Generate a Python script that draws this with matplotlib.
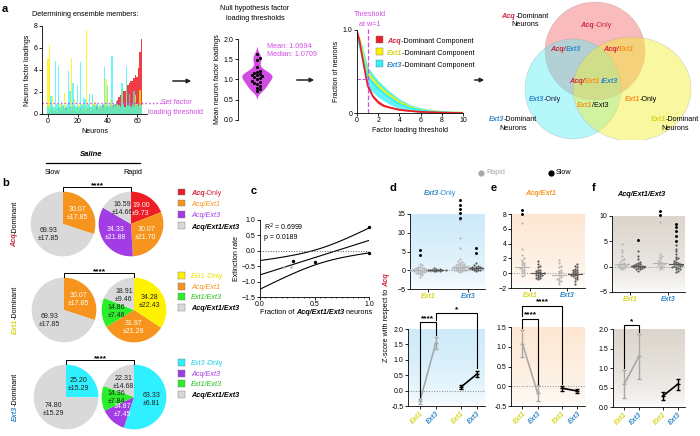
import numpy as np
import matplotlib
matplotlib.use('Agg')
import matplotlib.pyplot as plt
from matplotlib.patches import Rectangle, Ellipse, FancyArrowPatch
from matplotlib.lines import Line2D
from matplotlib.colors import LinearSegmentedColormap

plt.rcParams['font.family'] = ['Liberation Sans', 'DejaVu Sans']
plt.rcParams.update({'font.size': 5, 'axes.linewidth': 0.6,
                     'xtick.major.width': 0.6, 'ytick.major.width': 0.6,
                     'xtick.major.size': 2, 'ytick.major.size': 2,
                     'xtick.minor.size': 1, 'xtick.minor.width': 0.5,
                     'xtick.major.pad': 1.2, 'ytick.major.pad': 1.2,
                     'xtick.labelsize': 5, 'ytick.labelsize': 5,
                     'axes.spines.top': False, 'axes.spines.right': False})

W, H = 700, 436

RED = '#ee1c25'
RED_T = '#d2233c'
ORANGE = '#f7941d'
PURPLE = '#a23de6'
GREY_P = '#d9d9d9'
YELLOW = '#fff200'
GREEN = '#2bee2b'
CYAN = '#2ef0ff'
MAGENTA = '#d24ce4'
BLUE_T = '#2f86c8'
YEL_T = '#d8d41c'

# ---- panel a: factor loadings per neuron ----
yellow_load = [5.0, 6.3, 0.6, 1.6, 0.4, 0.8, 0.5, 0.3,
               0.9, 0.6, 0.7, 1.9, 0.4, 0.8, 0.6, 0.5,
               5.1, 0.7, 1.4, 0.5, 0.6, 0.8, 0.4, 0.9,
               0.6, 0.7, 7.6, 0.5, 0.8, 0.6, 1.5, 0.9,
               1.2, 0.4, 0.7, 0.6, 0.8, 0.5, 0.9, 3.2,
               2.0, 0.6, 1.4, 0.7, 0.5, 0.8, 0.6, 0.9,
               0.7, 0.5, 2.3, 0.8, 0.6, 3.0, 0.7, 0.9,
               0.5, 0.8, 0.6, 1.7, 0.9, 0.7, 2.2, 0.8]
cyan_load = [0.7, 0.5, 1.6, 0.8, 0.6, 4.8, 0.9, 4.4,
             0.6, 1.1, 0.8, 0.5, 0.7, 0.9, 3.9, 2.1,
             0.6, 2.8, 0.8, 0.7, 2.5, 0.6, 4.7, 0.8,
             1.5, 1.4, 0.7, 0.9, 1.8, 0.6, 1.8, 0.8,
             0.7, 0.9, 0.5, 0.8, 0.6, 0.9, 4.3, 0.7,
             2.6, 0.8, 0.6, 5.3, 0.7, 0.9, 1.2, 0.6,
             0.8, 0.7, 2.8, 0.9, 0.6, 4.4, 0.8, 1.8,
             0.7, 0.9, 2.1, 0.6, 0.8, 0.7, 0.9, 0.6]
red_load = [0.3, 0.2, 0.4, 0.5, 0.3, 0.4, 0.2, 0.5,
            0.3, 0.4, 0.6, 0.3, 0.5, 0.2, 0.4, 0.6,
            0.3, 0.5, 0.4, 0.2, 0.6, 0.3, 0.5, 0.4,
            0.6, 0.3, 0.4, 0.5, 0.7, 0.3, 0.6, 0.4,
            0.5, 0.7, 0.4, 0.6, 0.5, 0.8, 0.6, 0.7,
            0.8, 0.6, 0.9, 0.7, 0.8, 0.9, 1.2, 1.3,
            1.5, 1.7, 2.0, 2.1, 2.1, 2.4, 2.6, 2.8,
            3.0, 3.0, 3.3, 3.5, 3.4, 4.2, 5.6, 6.8]

mean_loadings = [1.62, 1.52, 1.47, 1.30, 1.22, 1.18, 1.13, 1.10, 1.10, 1.09, 1.07,
                 1.03, 1.00, 0.97, 0.95, 0.92, 0.88, 0.85, 0.80, 0.76, 0.72, 1.15]

thresholds = [0, 0.25, 0.5, 0.75, 1, 1.5, 2, 2.5, 3, 4, 5, 6, 7, 8, 9, 10]
acq_frac = [0.98, 0.86, 0.68, 0.5, 0.33, 0.2, 0.13, 0.09, 0.07, 0.04, 0.025, 0.015, 0.01, 0.005, 0.002, 0.0]
ext1_frac = [0.95, 0.86, 0.74, 0.6, 0.48, 0.4, 0.33, 0.27, 0.22, 0.13, 0.07, 0.04, 0.025, 0.015, 0.008, 0.004]
ext3_frac = [0.92, 0.82, 0.7, 0.57, 0.44, 0.36, 0.29, 0.24, 0.19, 0.11, 0.06, 0.035, 0.02, 0.012, 0.006, 0.003]
acq_sem = [0.02, 0.03, 0.04, 0.04, 0.03, 0.02, 0.02, 0.015, 0.01, 0.01, 0.005, 0.005, 0.003, 0.002, 0.001, 0]
ext1_sem = [0.03, 0.05, 0.06, 0.07, 0.07, 0.06, 0.05, 0.045, 0.04, 0.03, 0.02, 0.015, 0.01, 0.008, 0.005, 0.003]
ext3_sem = [0.05, 0.08, 0.11, 0.12, 0.12, 0.11, 0.1, 0.09, 0.08, 0.06, 0.04, 0.03, 0.02, 0.012, 0.007, 0.004]

# ---- panel b: ensemble composition (%) ----
acq_left, acq_left_sd = [30.07, 69.93], [17.85, 17.85]
acq_right, acq_right_sd = [19.00, 30.07, 34.33, 16.59], [9.73, 21.70, 21.88, 14.66]
ext1_left, ext1_left_sd = [30.07, 69.93], [17.85, 17.85]
ext1_right, ext1_right_sd = [34.28, 31.97, 14.86, 18.91], [22.43, 21.26, 7.46, 9.46]
ext3_left, ext3_left_sd = [25.20, 74.80], [15.29, 15.29]
ext3_right, ext3_right_sd = [63.33, 14.87, 14.36, 22.31], [6.81, 7.45, 7.84, 14.68]

# ---- panel c ----
c_grey_x, c_grey_y = [0.22, 0.28], [-0.52, -0.52]
c_black_x, c_black_y = [0.30, 0.50, 1.00, 1.00], [-0.32, -0.35, 0.77, -0.06]

# ---- panels d-f top: per-neuron z-scores ----
d_ext1_rapid = [0.3, -0.2, 0.5, -0.5, 0.1, 0.0, -0.3, 0.8, -0.8, 0.2, -0.1, 0.4, -0.6, 1.0, -1.0,
                0.6, -0.4, 0.15, -0.15, 1.3, -1.3, 0.05, -0.05, 0.7, -0.7, 1.6, -1.8, 0.25, -0.25, 0.35]
d_ext1_slow = [0.1, -0.1, 0.3, -0.2, 0.0, 0.2, -0.3, 0.5, 0.05, -0.05, 0.4, 0.15]
d_ext3_rapid = [0.5, 1.0, 0.2, 1.5, -0.3, 0.8, 2.0, 0.0, 1.2, 2.5, 0.4, -0.5, 1.8, 0.9, 0.1, 0.6, 3.0,
                1.4, -0.2, 0.7, 2.2, 0.3, 1.1, 0.0, 0.5, 1.7, 0.2, 0.9, 6.0, 8.6, 13.4, 0.6, 0.4, 1.3]
d_ext3_slow = [0.5, 0.8, 0.2, 1.2, 0.0, 0.6, 1.5, 0.3, 0.9, -0.2, 0.7, 0.4, 1.0, 0.1, 2.0, 0.5]
d_rapid_out = [[5.3, 4.0], [14.0, 15.2, 16.4, 17.5, 18.7]]
d_slow_out = [[], [6.0, 4.6]]

e_ext1_rapid = [0.8, 1.2, 0.3, 2.0, 0.0, 1.5, 0.5, -0.2, 2.5, 0.9, 1.1, 0.6, 0.2, 1.8, 3.3, 0.7, -0.4, 1.4, 6.8]
e_ext1_slow = [-0.2, 0.3, -0.5, 0.0, 0.8, -0.8, 1.2, -0.1, 0.2, -0.4, 0.5, 1.7, -0.3, 0.1, -0.6, 0.4,
               1.0, -0.2, 0.0, -0.7]
e_ext3_rapid = [-0.5, 0.2, -1.0, 0.5, -1.5, 1.0, -0.3, 1.8, -0.8, 0.0, 0.8, -1.2, -0.6, 0.3, -0.2, 1.4, -0.9]
e_ext3_slow = [-0.2, 0.3, -0.6, 0.0, 0.8, -1.0, 1.2, -0.4, 0.5, -0.1, 0.2, -0.8, 1.0, -0.3, 0.1, -1.5,
               0.6, -0.5, 0.4, -0.2]
e_rapid_out = [[8.6, 8.0], []]
e_slow_out = [[], []]

f_ext1_rapid = [0.2, 0.5, -0.3, 1.0, 0.0, 1.6, 0.3, 2.2, -0.5, 0.8, 0.1, 2.8, 0.6, -0.2, 1.3, 4.5, 0.4, 3.3]
f_ext1_slow = [0.0, 0.3, -0.4, 0.6, 0.1, -0.8, 1.0, 0.2, -0.2, 1.5, 0.4, -0.5, 2.2, 0.0, 3.0, 0.5,
               -0.1, 0.8, 0.2, -0.3]
f_ext3_rapid = [0.3, 1.0, -0.3, 2.0, 0.5, 1.5, 0.0, 2.5, 0.8, -0.5, 1.2, 0.2, 2.2, 0.6, 8.9]
f_ext3_slow = [0.2, 0.6, -0.4, 1.0, 0.0, 1.5, 0.3, -0.8, 2.0, 0.8, -0.2, 2.5, 0.4, 3.0, -1.0, 1.2,
               0.1, 3.5, 0.5, -0.5, 4.3, 0.7, 0.0, 1.8]
f_rapid_out = [[], [11.0, 10.2]]
f_slow_out = [[5.2], [8.5, 7.8, 7.0, 6.0, 5.0]]

# ---- panels d-f bottom: mean +/- sem ----
d_rapid_mean, d_rapid_err = [-0.35, 1.55], [0.08, 0.2]
d_slow_mean, d_slow_err = [0.12, 0.54], [0.07, 0.1]
e_rapid_mean, e_rapid_err = [1.08, -0.18], [0.35, 0.2]
e_slow_mean, e_slow_err = [-0.05, -0.12], [0.06, 0.06]
f_rapid_mean, f_rapid_err = [0.58, 1.30], [0.36, 0.57]
f_slow_mean, f_slow_err = [0.28, 0.58], [0.1, 0.15]

fig = plt.figure(figsize=(W / 100, H / 100), dpi=100)
renderer = fig.canvas.get_renderer()


def add_ax(l, t, r, b):
    return fig.add_axes([l / W, 1 - b / H, (r - l) / W, (b - t) / H])


def ftext(x, y, s, **kw):
    kw.setdefault('ha', 'center')
    kw.setdefault('va', 'center')
    return fig.text(x / W, 1 - y / H, s, **kw)


def rich(x, y, parts, size=5, align='left', rot=0):
    # chain text pieces with different colours / styles
    arts = []
    adv = 0.0
    base = y + 0.36 * size * 100 / 72
    for s, c, st, w in parts:
        gap = 0.39 * size if s.endswith(' ') else 0.0
        s2 = s.rstrip(' ')
        if rot == 0:
            t = fig.text((x + adv) / W, 1 - base / H, s2, color=c, style=st, weight=w,
                         fontsize=size, ha='left', va='baseline')
            ext = t.get_window_extent(renderer).width
        else:
            t = fig.text(x / W, 1 - (y - adv) / H, s2, color=c, style=st, weight=w,
                         fontsize=size, ha='center', va='bottom', rotation=90)
            ext = t.get_window_extent(renderer).height
        arts.append((t, adv))
        adv += ext + gap
    if align == 'center':
        for t, a in arts:
            if rot == 0:
                t.set_x((x + a - adv / 2) / W)
            else:
                t.set_y(1 - (y + adv / 2 - a) / H)
    return adv


def swarm(vals, ypx, xpx, d=2.3):
    vals = np.asarray(vals, float)
    offs = np.zeros(len(vals))
    placed = []
    cands = [0.0]
    for j in range(1, 25):
        cands += [j * d * 0.9, -j * d * 0.9]
    for i in np.argsort(vals):
        y = vals[i] * ypx
        for cx in cands:
            if all((cx - px) ** 2 + (y - py) ** 2 >= (d * 0.95) ** 2 for px, py in placed):
                break
        placed.append((cx, y))
        offs[i] = cx / xpx
    return offs


def gradient(ax, color, x0, x1, y0, y1):
    cm = LinearSegmentedColormap.from_list('g', ['white', color])
    g = np.linspace(0, 1, 100).reshape(-1, 1) ** 0.5
    ax.imshow(g, extent=[x0, x1, y0, y1], origin='lower', aspect='auto', cmap=cm, zorder=0)
    ax.set_xlim(x0, x1)
    ax.set_ylim(y0, y1)


def arrow(x1, x2, y):
    fig.add_artist(FancyArrowPatch((x1 / W, 1 - y / H), (x2 / W, 1 - y / H), transform=fig.transFigure,
                                   arrowstyle='-|>', mutation_scale=6, lw=1.1, color='#222222'))


def square(x, y, color):
    fig.add_artist(Rectangle((x / W, 1 - (y + 3.5) / H), 7 / W, 7 / H, transform=fig.transFigure,
                             facecolor=color, edgecolor='#777777', lw=0.3))


# panel letters
for lab, x, y in [('a', 5, 9), ('b', 6, 183), ('c', 254, 191), ('d', 393, 188), ('e', 494, 188), ('f', 594, 188)]:
    ftext(x, y, lab, fontsize=8, weight='bold')

# ---------------- a1: loadings bars ----------------
ax = add_ax(42, 26, 147, 114)
n = np.arange(len(red_load))
ax.bar(n, red_load, width=1, color=RED, alpha=0.85, lw=0, antialiased=False)
ax.bar(n, yellow_load, width=1, color=YELLOW, alpha=0.8, lw=0, antialiased=False)
ax.bar(n, cyan_load, width=1, color=CYAN, alpha=0.7, lw=0, antialiased=False)
ax.set_xlim(-4, 66.7)
ax.set_ylim(0, 8)
ax.set_xticks([0, 20, 40, 60])
ax.set_yticks([0, 2, 4, 6, 8])
ax.plot([-4, 80], [1, 1], ls=':', color=MAGENTA, lw=1, clip_on=False)
ax.set_ylabel('Neuron factor loadings', labelpad=2)
ax.set_xlabel('Neurons', labelpad=2)
ftext(85, 15, 'Determining ensemble members:', fontsize=5.2)
ftext(176, 103, 'Set factor', color=MAGENTA, fontsize=5.2)
ftext(175, 112, 'loading threshold', color=MAGENTA, fontsize=5.2)

arrow(170, 194, 81)
arrow(294, 317, 80)
arrow(472, 487, 80)

# ---------------- a2: violin ----------------
ax = add_ax(238, 39, 292, 120)
ml = np.array(mean_loadings)
ys = np.linspace(ml.min() - 0.2, ml.max() + 0.2, 200)
dens = np.exp(-0.5 * ((ys[:, None] - ml[None, :]) / 0.09) ** 2).sum(axis=1)
dens = dens / dens.max() * 0.56
ax.fill_betweenx(ys, -dens, dens, color=MAGENTA, lw=0, zorder=1)
ax.scatter(swarm(ml, 40.5, 27, d=3.0), ml, s=5, color='k', zorder=2, lw=0)
ax.set_xlim(-0.7, 1.3)
ax.set_ylim(0, 2)
ax.set_yticks([0, 0.5, 1.0, 1.5, 2.0])
ax.set_yticklabels(['0.0', '0.5', '1.0', '1.5', '2.0'])
ax.set_xticks([])
ax.spines['bottom'].set_visible(False)
ax.set_ylabel('Mean neuron factor loadings', labelpad=2)
ftext(255, 8, 'Null hypothesis factor', fontsize=5.2)
ftext(255, 18, 'loading thresholds', fontsize=5.2)
ftext(267, 47, 'Mean: 1.0694', color=MAGENTA, fontsize=5.2, ha='left')
ftext(267, 55, 'Median: 1.0709', color=MAGENTA, fontsize=5.2, ha='left')

# ---------------- a3: fraction of neurons ----------------
ax = add_ax(357, 30, 463, 113)
thr = np.array(thresholds)
for mid, sem, col in [(ext1_frac, ext1_sem, YELLOW), (ext3_frac, ext3_sem, CYAN), (acq_frac, acq_sem, RED)]:
    mid, sem = np.array(mid), np.array(sem)
    ax.fill_between(thr, mid - sem, mid + sem, color=col, alpha=0.75, lw=0)
    ax.plot(thr, mid, color=col, lw=1.2)
ax.plot([1, 1], [0, 1.04], ls='--', color=MAGENTA, lw=0.9, clip_on=False)
ax.plot([0, 1], [0.41, 0.41], ls='--', color=MAGENTA, lw=0.7)
ax.set_xlim(0, 10)
ax.set_ylim(0, 1)
ax.set_xticks([0, 2, 4, 6, 8, 10])
ax.set_yticks([0, 1])
ax.set_yticklabels(['0', '1.0'])
ax.set_ylabel('Fraction of neurons', labelpad=2)
ax.set_xlabel('Factor loading threshold', labelpad=2)
ftext(370, 15, 'Threshold', color=MAGENTA, fontsize=5.2)
ftext(370, 25, 'at w=1', color=MAGENTA, fontsize=5.2)
for (word, wc, col), yy in zip([('Acq', RED_T, RED), ('Ext1', YEL_T, YELLOW), ('Ext3', BLUE_T, CYAN)], [40, 52, 64]):
    square(376, yy, col)
    rich(387, yy, [(word, wc, 'italic', 'bold'), ('-Dominant Component', 'k', 'normal', 'normal')], size=5.2)

# ---------------- a4: Venn ----------------
ax = add_ax(470, 0, 700, 140)
ax.set_xlim(470, 700)
ax.set_ylim(140, 0)
ax.axis('off')
for (cx, cy, w, h), col in [((595, 51, 100, 98), '#f26a6a'), ((573, 89, 96, 100), '#5eeef6'),
                            ((632, 89, 118, 104), '#f4ee30')]:
    ax.add_patch(Ellipse((cx, cy), w, h, facecolor=col, alpha=0.45, edgecolor='#999999', lw=0.4))
S = 5.2
rich(525, 15, [('Acq', RED_T, 'italic', 'bold'), ('-Dominant', 'k', 'normal', 'normal')], size=S, align='center')
ftext(525, 24, 'Neurons', fontsize=S)
rich(596, 24, [('Acq', RED_T, 'italic', 'bold'), ('-Only', RED_T, 'normal', 'normal')], size=S, align='center')
rich(566, 48, [('Acq/', RED_T, 'italic', 'bold'), ('Ext3', BLUE_T, 'italic', 'bold')], size=S, align='center')
rich(619, 48, [('Acq/', RED_T, 'italic', 'bold'), ('Ext1', ORANGE, 'italic', 'bold')], size=S, align='center')
rich(593, 80, [('Acq/', RED_T, 'italic', 'bold'), ('Ext1', ORANGE, 'italic', 'bold'),
               ('/Ext3', BLUE_T, 'italic', 'bold')], size=S, align='center')
rich(545, 98, [('Ext3', BLUE_T, 'italic', 'bold'), ('-Only', '#222244', 'normal', 'normal')], size=S, align='center')
rich(593, 104, [('Ext1', ORANGE, 'italic', 'bold'), ('/Ext3', 'k', 'normal', 'normal')], size=S, align='center')
rich(641, 98, [('Ext1', ORANGE, 'italic', 'bold'), ('-Only', 'k', 'normal', 'normal')], size=S, align='center')
rich(513, 118, [('Ext3', BLUE_T, 'italic', 'bold'), ('-Dominant', 'k', 'normal', 'normal')], size=S, align='center')
ftext(513, 128, 'Neurons', fontsize=S)
rich(675, 118, [('Ext1', YEL_T, 'italic', 'bold'), ('-Dominant', 'k', 'normal', 'normal')], size=S, align='center')
ftext(675, 128, 'Neurons', fontsize=S)

# ---------------- b: pies ----------------
ftext(91, 155, 'Saline', fontsize=5.5, weight='bold', style='italic')
fig.add_artist(Line2D([46 / W, 140 / W], [1 - 163 / H] * 2, transform=fig.transFigure, color='k', lw=0.9))
ftext(53, 173, 'Slow', fontsize=5.2)
ftext(133, 173, 'Rapid', fontsize=5.2)

WHITE_TXT = (RED, ORANGE, PURPLE)


def draw_pie(cx, cy, vals, sds, cols):
    pax = add_ax(cx - 33, cy - 33, cx + 33, cy + 33)
    wedges, _ = pax.pie(vals, colors=cols, startangle=90, counterclock=False, radius=1)
    for wdg, v, sd, c in zip(wedges, vals, sds, cols):
        ang = np.deg2rad((wdg.theta1 + wdg.theta2) / 2)
        pax.text(0.55 * np.cos(ang), 0.55 * np.sin(ang), f'{v:.2f}\n±{sd:.2f}', ha='center', va='center',
                 color='white' if c in WHITE_TXT else '#222222', fontsize=5, linespacing=1.15)
    pax.set_xlim(-1.02, 1.02)
    pax.set_ylim(-1.02, 1.02)
    pax.axis('off')


pie_rows = [
    (224, 63, 131, acq_left, acq_left_sd, [ORANGE, GREY_P], acq_right, acq_right_sd,
     [RED, ORANGE, PURPLE, GREY_P], ('Acq', RED_T),
     [[('Acq', RED_T, 'italic', 'bold'), ('-Only', RED_T, 'normal', 'normal')],
      [('Acq/Ext1', ORANGE, 'italic', 'normal')],
      [('Acq/Ext3', PURPLE, 'italic', 'normal')],
      [('Acq/Ext1/Ext3', 'k', 'italic', 'bold')]], [192, 203, 214, 226]),
    (310, 64, 134, ext1_left, ext1_left_sd, [ORANGE, GREY_P], ext1_right, ext1_right_sd,
     [YELLOW, ORANGE, GREEN, GREY_P], ('Ext1', YEL_T),
     [[('Ext1', '#e6e400', 'italic', 'normal'), ('-Only', '#e6e400', 'normal', 'normal')],
      [('Acq/Ext1', ORANGE, 'italic', 'normal')],
      [('Ext1/Ext3', '#1fbf1f', 'italic', 'normal')],
      [('Acq/Ext1/Ext3', 'k', 'italic', 'bold')]], [275, 286, 296, 307]),
    (397, 66, 134, ext3_left, ext3_left_sd, [CYAN, GREY_P], ext3_right, ext3_right_sd,
     [CYAN, PURPLE, GREEN, GREY_P], ('Ext3', BLUE_T),
     [[('Ext3', '#1ccfe0', 'italic', 'normal'), ('-Only', '#1ccfe0', 'normal', 'normal')],
      [('Acq/Ext3', PURPLE, 'italic', 'normal')],
      [('Ext1/Ext3', '#1fbf1f', 'italic', 'normal')],
      [('Acq/Ext1/Ext3', 'k', 'italic', 'bold')]], [362, 373, 383, 394]),
]
for (cy, lx, rx, lv, lsd, lcol, rv, rsd, rcol, (word, wc), leg, legy) in pie_rows:
    draw_pie(lx, cy, lv, lsd, lcol)
    draw_pie(rx, cy, rv, rsd, rcol)
    by = cy - 37
    fig.add_artist(Line2D([lx / W, lx / W, rx / W, rx / W], [1 - (by + 4) / H, 1 - by / H, 1 - by / H, 1 - (by + 4) / H],
                          transform=fig.transFigure, color='k', lw=0.7))
    ftext((lx + rx) / 2, by - 1.5, '****', fontsize=6, weight='bold')
    rich(15, cy, [(word, wc, 'italic', 'bold'), ('-Dominant', 'k', 'normal', 'normal')], size=5.2,
         align='center', rot=90)
    for parts, yy, col in zip(leg, legy, rcol):
        square(178, yy, col)
        rich(191, yy, parts, size=5.2)

# ---------------- c: regression ----------------
ax = add_ax(260, 220, 369, 297)
cx_all = np.array(c_grey_x + c_black_x)
cy_all = np.array(c_grey_y + c_black_y)
slope, icpt = np.polyfit(cx_all, cy_all, 1)
xs = np.linspace(0, 1, 60)
res = cy_all - (slope * cx_all + icpt)
s_err = np.sqrt((res ** 2).sum() / (len(cx_all) - 2))
sxx = ((cx_all - cx_all.mean()) ** 2).sum()
ci = 1.9 * s_err * np.sqrt(1 / len(cx_all) + (xs - cx_all.mean()) ** 2 / sxx)
fit = slope * xs + icpt
for yy in (fit, fit + ci, fit - ci):
    ax.plot(xs, yy, color='k', lw=0.8)
ax.axhline(0, ls=':', color='#555555', lw=0.7)
ax.scatter(c_grey_x, c_grey_y, s=3, color='#aaaaaa', lw=0, zorder=3)
ax.scatter(c_black_x, c_black_y, s=6, color='k', lw=0, zorder=3, clip_on=False)
ax.set_xlim(0, 1)
ax.set_ylim(-1.5, 1.0)
ax.set_yticks([-1.5, -1.0, -0.5, 0.0, 0.5, 1.0])
ax.set_xticks([0, 0.5, 1.0])
ax.set_xticklabels(['0.0', '0.5', '1.0'])
ax.set_xticks(np.arange(0, 1.001, 0.05), minor=True)
ax.set_ylabel('Extinction rate', labelpad=1)
ax.text(0.04, 0.98, 'R$^2$ = 0.6999\np = 0.0189', transform=ax.transAxes, fontsize=5, va='top', linespacing=1.3)
rich(316, 311, [('Fraction of ', 'k', 'normal', 'normal'), ('Acq/Ext1/Ext3', 'k', 'italic', 'bold'),
                (' neurons', 'k', 'normal', 'normal')], size=5.2, align='center')

# ---------------- d-f ----------------
fig.add_artist(Line2D([481 / W], [1 - 173 / H], marker='o', ms=3.5, color='#aaaaaa', transform=fig.transFigure))
ftext(486, 173, 'Rapid', color='#aaaaaa', fontsize=5.2, ha='left')
fig.add_artist(Line2D([551 / W], [1 - 173 / H], marker='o', ms=3.5, color='k', transform=fig.transFigure))
ftext(556, 173, 'Slow', color='k', fontsize=5.2, ha='left')

rich(440, 192, [('Ext3', BLUE_T, 'italic', 'bold'), ('-Only', BLUE_T, 'normal', 'normal')], size=5.2, align='center')
rich(541, 192, [('Acq/Ext1', ORANGE, 'italic', 'bold')], size=5.2, align='center')
rich(641, 193, [('Acq/Ext1/Ext3', 'k', 'italic', 'bold')], size=5.2, align='center')
rich(387, 318, [('Z-score with respect to ', 'k', 'normal', 'normal'), ('Acq', RED_T, 'italic', 'bold')],
     size=5.2, align='center', rot=90)

top_panels = [
    ((410, 214, 485, 289), (0.55, 2.43), (-5, 15), [-5, 0, 5, 10, 15], '#cdeaf9',
     [d_ext1_rapid, d_ext3_rapid], [d_ext1_slow, d_ext3_slow], d_rapid_out, d_slow_out),
    ((511, 214, 585, 288), (0.49, 2.49), (-2, 8), [-2, 0, 2, 4, 6, 8], '#fde7d3',
     [e_ext1_rapid, e_ext3_rapid], [e_ext1_slow, e_ext3_slow], e_rapid_out, e_slow_out),
    ((612, 216, 685, 292), (0.53, 2.45), (-5, 10), [-5, 0, 5, 10], '#dcd5cd',
     [f_ext1_rapid, f_ext3_rapid], [f_ext1_slow, f_ext3_slow], f_rapid_out, f_slow_out),
]
for rect, xl, yl, yt, gcol, rapid, slow, r_out, s_out in top_panels:
    ax = add_ax(*rect)
    gradient(ax, gcol, xl[0], xl[1], yl[0], yl[1])
    ypx = (rect[3] - rect[1]) / (yl[1] - yl[0])
    xpx = (rect[2] - rect[0]) / (xl[1] - xl[0])
    ax.axhline(0, ls=':', color='#888888', lw=0.7, zorder=1)
    for k in range(2):
        for vals, outs, dx, col in [(rapid[k], r_out[k], -8, '#b4b4b4'), (slow[k], s_out[k], 8, '#555555')]:
            xc = k + 1 + dx / xpx
            ax.scatter(xc + swarm(vals, ypx, xpx), vals, s=2.5, color=col, lw=0, zorder=3)
            med = np.median(vals)
            ax.plot([xc - 7 / xpx, xc + 7 / xpx], [med, med], color=col, lw=0.8, zorder=4)
            if outs:
                ax.scatter([xc] * len(outs), outs, s=4.5, color='k', lw=0, zorder=4, clip_on=False)
    ax.set_yticks(yt)
    ax.set_xticks([1, 2])
    ax.set_xticklabels(['Ext1', 'Ext3'], style='italic', weight='bold')
    ax.get_xticklabels()[0].set_color(YEL_T)
    ax.get_xticklabels()[1].set_color(BLUE_T)

bx = [0, 1, 2.6, 3.6]
bottom_panels = [
    ((408, 329, 485, 406), (-0.5, 2.0), [-0.5, 0.0, 0.5, 1.0, 1.5, 2.0], '#cdeaf9',
     d_rapid_mean, d_rapid_err, d_slow_mean, d_slow_err,
     [(0, 1, 2.23, -0.22, 1.8, '****'), (1, 3.6, 2.52, 2.28, 0.72, '*')]),
    ((511, 327, 585, 406), (-0.5, 1.5), [-0.5, 0.0, 0.5, 1.0, 1.5], '#fde7d3',
     e_rapid_mean, e_rapid_err, e_slow_mean, e_slow_err,
     [(0, 1, 1.71, 1.47, 0.05, '****'), (0, 2.6, 2.04, 1.78, 0.05, '****')]),
    ((613, 329, 685, 407), (0.0, 2.0), [0.0, 0.5, 1.0, 1.5, 2.0], '#dcd5cd',
     f_rapid_mean, f_rapid_err, f_slow_mean, f_slow_err,
     [(0, 1, 2.1, 1.0, 1.92, '*')]),
]
for rect, yl, yt, gcol, rm, re_, sm, se, brs in bottom_panels:
    ax = add_ax(*rect)
    gradient(ax, gcol, -0.75, 4.1, yl[0], yl[1])
    if yl[0] < 0:
        ax.axhline(0, ls=':', color='#888888', lw=0.7, zorder=1)
    ax.errorbar(bx[:2], rm, yerr=re_, color='#a8a8a8', lw=1.2, elinewidth=1.0, capsize=1.2,
                marker='_', ms=3, zorder=3)
    ax.errorbar(bx[2:], sm, yerr=se, color='k', lw=1.2, elinewidth=1.0, capsize=1.2,
                marker='_', ms=3, zorder=3)
    for x1, x2, yb, l1, l2, st in brs:
        ax.plot([x1, x1, x2, x2], [l1, yb, yb, l2], color='k', lw=0.8, clip_on=False, zorder=5)
        ax.text((x1 + x2) / 2, yb, st, ha='center', va='bottom', fontsize=6, weight='bold', clip_on=False)
    ax.set_yticks(yt)
    ax.set_yticklabels([f'{v:.1f}' for v in yt])
    ax.set_xticks(bx)
    ax.set_xticklabels(['Ext1', 'Ext3', 'Ext1', 'Ext3'], rotation=45, ha='right', rotation_mode='anchor',
                       style='italic', weight='bold')
    for lab, c in zip(ax.get_xticklabels(), [YEL_T, BLUE_T, YEL_T, BLUE_T]):
        lab.set_color(c)

fig.savefig('out.png', dpi=100)
